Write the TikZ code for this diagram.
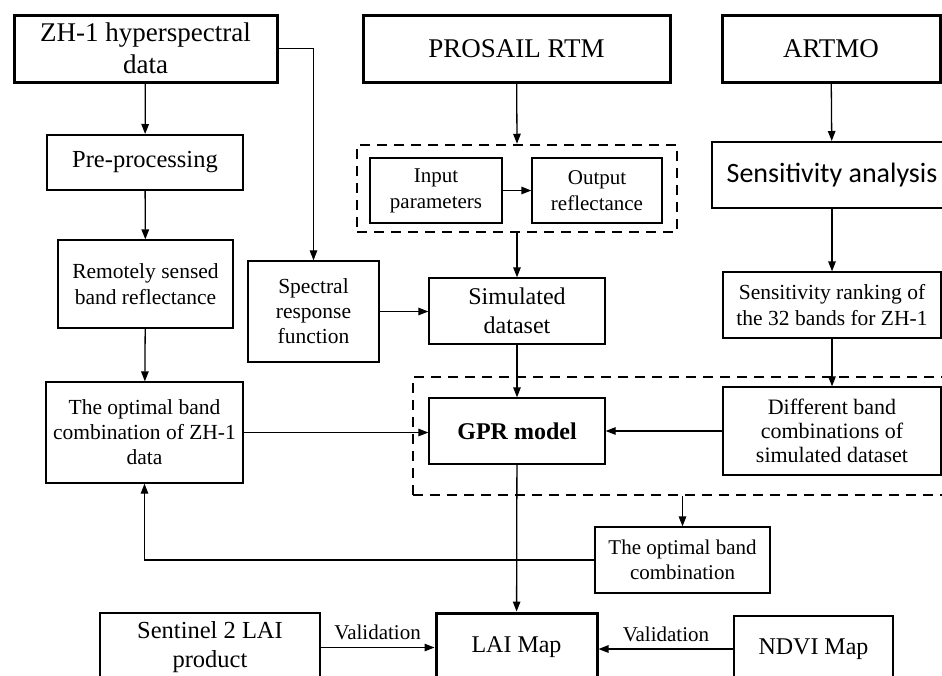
\documentclass[tikz,border=0pt]{standalone}
\usepackage{fontspec}
\setmainfont{Liberation Serif}
\newfontfamily\calibfont{Carlito}
\usetikzlibrary{arrows.meta}
\begin{document}
\begin{tikzpicture}[x=1pt,y=-1pt,
  box/.style={draw, line width=1.3pt, align=center, inner sep=0pt, font=\fontsize{21.5}{25.5}\selectfont},
  thickbox/.style={box, line width=3pt, font=\fontsize{27}{32}\selectfont},
  medbox/.style={box, line width=2pt},
  dashbox/.style={draw, line width=2.5pt, dash pattern=on 10pt off 7pt, inner sep=0pt},
  arr/.style={-{Triangle[length=10pt,width=7.5pt]}, line width=1.3pt},
  lbl/.style={font=\fontsize{21}{25}\selectfont, inner sep=2pt, yshift=5pt}]
\useasboundingbox (0,0) rectangle (942,675);
\clip (0,0) rectangle (942,675);
\fill[white] (0,0) rectangle (942,675);

% top row
\node[thickbox, minimum width=263pt, minimum height=67pt] (zh1) at (145.5,48.5) {ZH-1 hyperspectral\\data};
\node[thickbox, minimum width=307pt, minimum height=67pt] (prosail) at (516.5,48.5) {PROSAIL RTM};
\node[thickbox, minimum width=218pt, minimum height=67pt] (artmo) at (831,48.5) {ARTMO};

% second row
\node[medbox, minimum width=196pt, minimum height=55pt, font=\fontsize{24.5}{29}\selectfont] (pre) at (145,162.5) {Pre-processing};
\node[dashbox, minimum width=320pt, minimum height=87pt] (grp1) at (517,188.5) {};
\node[box, minimum width=132pt, minimum height=65pt, font=\fontsize{21}{26}\selectfont] (inp) at (436,190.5) {Input\\parameters};
\node[box, minimum width=130pt, minimum height=65pt, font=\fontsize{21}{26}\selectfont] (outp) at (597,190.5) {Output\\reflectance};
\node[medbox, minimum width=240pt, minimum height=66pt, font=\calibfont\fontsize{28}{32}\selectfont] (sens) at (832,175) {Sensitivity analysis};

% third row
\node[box, minimum width=175pt, minimum height=88pt, font=\fontsize{21.5}{26}\selectfont] (remote) at (145.5,284) {Remotely sensed\\band reflectance};
\node[box, minimum width=131pt, minimum height=101pt, font=\fontsize{21.5}{25}\selectfont] (spec) at (313.5,311.5) {Spectral\\response\\function};
\node[box, minimum width=176pt, minimum height=66pt, font=\fontsize{24}{29}\selectfont] (sim) at (517,311) {Simulated\\dataset};
\node[box, minimum width=218pt, minimum height=66pt, font=\fontsize{21.5}{26}\selectfont] (rank) at (832,305) {Sensitivity ranking of\\the 32 bands for ZH-1};

% fourth row
\node[dashbox, minimum width=567pt, minimum height=118pt] (grp2) at (696.5,436) {};
\node[box, minimum width=197pt, minimum height=101pt, font=\fontsize{21.5}{25}\selectfont] (optzh) at (144.5,432.5) {The optimal band\\combination of ZH-1\\data};
\node[box, minimum width=176pt, minimum height=66pt, font=\bfseries\fontsize{24}{29}\selectfont] (gpr) at (517,431) {GPR model};
\node[box, minimum width=218pt, minimum height=88pt, font=\fontsize{22}{24}\selectfont] (diff) at (832,431) {Different band\\combinations of\\simulated dataset};

% fifth row
\node[box, minimum width=175pt, minimum height=66pt, font=\fontsize{21}{25}\selectfont] (optb) at (682.5,560) {The optimal band\\combination};

% bottom row
\node[box, minimum width=220pt, minimum height=69pt, font=\fontsize{24.5}{29}\selectfont] (sent) at (210,647.5) {Sentinel 2 LAI\\product};
\node[thickbox, minimum width=161pt, minimum height=69pt, font=\fontsize{24}{29}\selectfont] (lai) at (516.5,647.5) {LAI Map};
\node[box, minimum width=159pt, minimum height=66pt, font=\fontsize{24}{29}\selectfont] (ndvi) at (813.5,649) {NDVI Map};

% connectors
\draw[arr] (zh1) -- (pre);
\draw[arr] (pre) -- (remote);
\draw[arr] (remote) -- (optzh);
\draw[arr, line width=1.1pt] (zh1.east) -| (spec.north);
\draw[arr] (prosail) -- (grp1.north);
\draw[arr] (inp) -- (outp);
\draw[arr] (grp1.south) -- (sim.north);
\draw[arr] (spec.east) -- (spec.east -| sim.west);
\draw[arr] (artmo) -- (sens);
\draw[arr] (sens) -- (rank);
\draw[arr] (rank) -- (diff);
\draw[arr] (sim) -- (gpr);
\draw[arr] (optzh.east) -- (optzh.east -| gpr.west);
\draw[arr] (diff.west) -- (diff.west -| gpr.east);
\draw[arr] (optb.north |- grp2.south) -- (optb.north);
\draw[arr] (optb.west) -| (optzh.south);
\draw[arr] (gpr) -- (lai);
\draw[arr] (sent.east) -- node[lbl, above] {Validation} (sent.east -| lai.west);
\draw[arr] (ndvi.west) -- node[lbl, above] {Validation} (ndvi.west -| lai.east);
\end{tikzpicture}
\end{document}
